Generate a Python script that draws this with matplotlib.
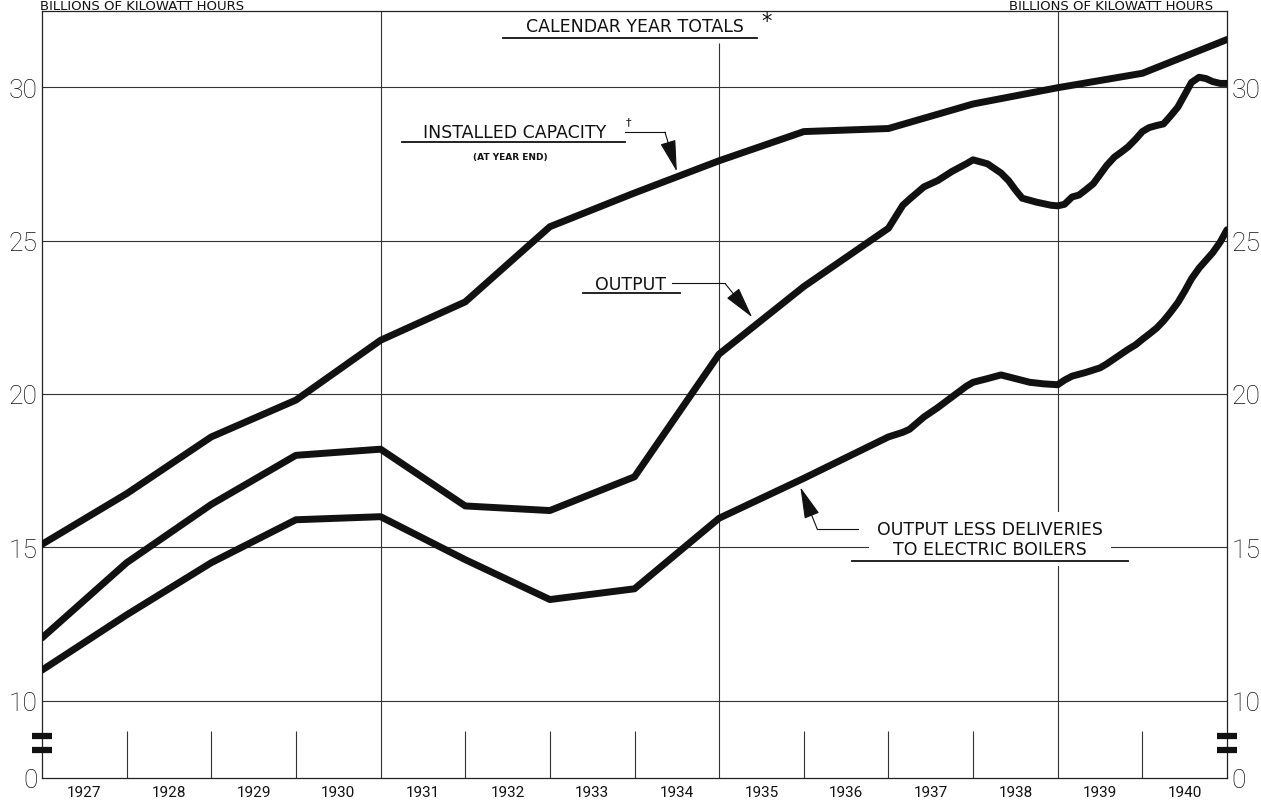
import numpy as np
import matplotlib.pyplot as plt

plt.rcParams['font.family'] = ['Roboto', 'DejaVu Sans']

# calendar year totals, billions of kWh (x = year boundary)
cap_years = [1927, 1928, 1929, 1930, 1931, 1932, 1933, 1934, 1935, 1936,
             1937, 1938, 1939, 1940, 1941]
capacity = [15.1, 16.75, 18.6, 19.8, 21.75, 23.0, 25.45, 26.55, 27.6, 28.55,
            28.65, 29.45, 29.98, 30.45, 31.55]

out_years = [1927, 1928, 1929, 1930, 1931, 1932, 1933, 1934, 1935, 1936,
             1937, 1937.17, 1937.25, 1937.42, 1937.58, 1937.75, 1937.92,
             1938, 1938.17, 1938.33, 1938.42, 1938.5, 1938.58, 1938.75,
             1938.92, 1939, 1939.08, 1939.17, 1939.25, 1939.33, 1939.42,
             1939.5, 1939.58, 1939.67, 1939.75, 1939.83, 1939.92, 1940,
             1940.08, 1940.17, 1940.25, 1940.33, 1940.42, 1940.5, 1940.58,
             1940.67, 1940.75, 1940.83, 1940.92, 1941]
output = [12.05, 14.5, 16.4, 18.0, 18.2, 16.35, 16.2, 17.3, 21.3, 23.5,
          25.4, 26.15, 26.35, 26.75, 26.95, 27.25, 27.5,
          27.63, 27.5, 27.2, 26.95, 26.65, 26.38, 26.25,
          26.15, 26.13, 26.18, 26.42, 26.48, 26.65, 26.85,
          27.15, 27.45, 27.72, 27.88, 28.05, 28.3, 28.55,
          28.68, 28.75, 28.8, 29.05, 29.35, 29.75, 30.15,
          30.32, 30.28, 30.18, 30.12, 30.12]

net_years = [1927, 1928, 1929, 1930, 1931, 1932, 1933, 1934, 1935, 1936,
             1937, 1937.17, 1937.25, 1937.42, 1937.58, 1937.75, 1937.92,
             1938, 1938.17, 1938.33, 1938.5, 1938.67, 1938.83, 1939,
             1939.08, 1939.17, 1939.33, 1939.5, 1939.58, 1939.67, 1939.75,
             1939.83, 1939.92, 1940, 1940.08, 1940.17, 1940.25, 1940.33,
             1940.42, 1940.5, 1940.58, 1940.67, 1940.75, 1940.83, 1940.92,
             1941]
net_output = [11.0, 12.8, 14.5, 15.9, 16.0, 14.6, 13.3, 13.65, 15.95, 17.25,
              18.6, 18.75, 18.85, 19.25, 19.55, 19.9, 20.25,
              20.38, 20.5, 20.62, 20.5, 20.38, 20.33, 20.3,
              20.45, 20.58, 20.7, 20.85, 20.98, 21.15, 21.3,
              21.45, 21.6, 21.78, 21.95, 22.15, 22.38, 22.65,
              22.98, 23.35, 23.75, 24.1, 24.35, 24.6, 24.95,
              25.35]

year_labels = [str(y) for y in range(1927, 1941)]
y_ticks = [0, 10, 15, 20, 25, 30]
ink = '#111111'
letter = ['DejaVu Sans']

# broken axis: 0-10 squeezed into a short band
k = 0.2516


def fwd(y):
    y = np.asarray(y, dtype=float)
    return np.where(y >= 10, y, 10 - (10 - y) * k)


def inv(t):
    t = np.asarray(t, dtype=float)
    return np.where(t >= 10, t, 10 - (10 - t) / k)


fig = plt.figure(figsize=(12.61, 8.04), dpi=100)
ax = fig.add_axes([42 / 1261, 25 / 804, 1185 / 1261, 767 / 804])
ax.set_yscale('function', functions=(fwd, inv))
ax.set_xlim(1927, 1941)
ax.set_ylim(0, 32.48)

# grid
for v in [10, 15, 20, 25, 30]:
    ax.axhline(v, color='#333333', lw=0.8, zorder=1)
ax.vlines([1931, 1939], 0, 32.48, color='#333333', lw=0.8, zorder=1)
ax.vlines([1935], 0, 31.45, color='#333333', lw=0.8, zorder=1)
dividers = [y for y in range(1928, 1941) if y not in (1931, 1935, 1939)]
ax.vlines(dividers, 0, 6.1, color='#333333', lw=0.8, zorder=1)

for sp in ax.spines.values():
    sp.set_linewidth(0.9)
    sp.set_color('#222222')

# series
style = dict(color=ink, lw=5, solid_joinstyle='round', solid_capstyle='round', zorder=4)
ax.plot(cap_years, capacity, **style)
ax.plot(out_years, output, **style)
ax.plot(net_years, net_output, **style)

# ticks
ax.set_yticks(y_ticks)
ax.set_yticklabels([str(v) for v in y_ticks])
ax.yaxis.set_minor_locator(plt.NullLocator())
ax.tick_params(axis='y', which='both', length=0, labelleft=True, labelright=True,
               labelsize=19, pad=3, colors=ink)
for t in ax.yaxis.get_major_ticks():
    t.label1.set_fontweight('light')
    t.label2.set_fontweight('light')
ax.set_xticks(np.arange(1927, 1941) + 0.5)
ax.set_xticklabels(year_labels)
ax.tick_params(axis='x', length=0, labelsize=11, pad=5, colors=ink)

# break marks
for side in (1927, 1941):
    for yb in (5.45, 3.6):
        ax.plot([side - 0.12, side + 0.12], [yb, yb], color=ink, lw=4.5,
                solid_capstyle='butt', clip_on=False, zorder=6)

arrow = dict(arrowstyle='-|>,head_length=1.0,head_width=0.25', color=ink, lw=0.8,
             mutation_scale=20, shrinkA=0, shrinkB=0)
thin = dict(color=ink, lw=0.8, zorder=5)
rule = dict(color=ink, lw=1.3, zorder=5)
lab = dict(family=letter, fontsize=12.5, color=ink, zorder=5)

# title
ax.text(1934.0, 31.99, 'CALENDAR YEAR TOTALS', ha='center', va='center', **lab)
ax.plot([1932.45, 1935.45], [31.6, 31.6], **rule)
ax.text(1935.5, 32.15, '*', ha='left', va='center', fontsize=15, color=ink, family=letter)

# installed capacity label
ax.text(1932.58, 28.53, 'INSTALLED CAPACITY', ha='center', va='center', **lab)
ax.text(1933.93, 28.9, '†', ha='center', va='center', fontsize=8, color=ink, family=letter)
ax.plot([1931.25, 1933.89], [28.2, 28.2], **rule)
ax.text(1932.53, 27.75, '(AT YEAR END)', ha='center', va='center',
        fontsize=6.5, fontweight='bold', color=ink, family=letter)
ax.plot([1933.89, 1934.36], [28.53, 28.53], **thin)
ax.annotate('', xy=(1934.5, 27.25), xytext=(1934.36, 28.53), arrowprops=arrow, zorder=5)

# output label
ax.text(1933.95, 23.58, 'OUTPUT', ha='center', va='center', **lab)
ax.plot([1933.39, 1934.54], [23.29, 23.29], **rule)
ax.plot([1934.44, 1935.07], [23.6, 23.6], **thin)
ax.annotate('', xy=(1935.39, 22.5), xytext=(1935.07, 23.6), arrowprops=arrow, zorder=5)

# output less deliveries label
ax.text(1938.2, 15.27, 'OUTPUT LESS DELIVERIES\nTO ELECTRIC BOILERS', ha='center',
        va='center', linespacing=1.2,
        bbox=dict(boxstyle='square,pad=0.45', fc='white', ec='none'), **lab)
ax.plot([1936.57, 1939.83], [14.55, 14.55], **rule)
ax.plot([1936.64, 1936.16], [15.59, 15.59], **thin)
ax.annotate('', xy=(1935.96, 16.96), xytext=(1936.16, 15.59), arrowprops=arrow, zorder=5)

# unit captions along the top edge
fig.text(40 / 1261, 1 - 10.5 / 804, 'BILLIONS OF KILOWATT HOURS', ha='left', va='baseline',
         fontsize=9.5, color=ink, family=letter)
fig.text(1213 / 1261, 1 - 10.5 / 804, 'BILLIONS OF KILOWATT HOURS', ha='right', va='baseline',
         fontsize=9.5, color=ink, family=letter)

fig.savefig('out.png', dpi=100, facecolor='white')
